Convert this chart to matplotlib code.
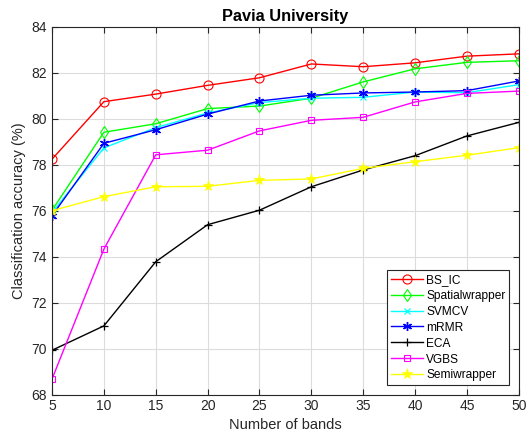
import matplotlib
matplotlib.use("Agg")
import matplotlib.pyplot as plt

plt.rcParams['font.family'] = ['Liberation Sans', 'DejaVu Sans']

bands = [5, 10, 15, 20, 25, 30, 35, 40, 45, 50]
bs_ic = [78.24, 80.74, 81.07, 81.45, 81.78, 82.38, 82.26, 82.43, 82.72, 82.82]
spatialwrapper = [76.02, 79.41, 79.78, 80.44, 80.55, 80.89, 81.60, 82.17, 82.45, 82.52]
svmcv = [75.92, 78.73, 79.61, 80.25, 80.70, 80.89, 80.93, 81.16, 81.13, 81.48]
mrmr = [75.78, 78.93, 79.52, 80.20, 80.77, 81.02, 81.12, 81.16, 81.22, 81.64]
eca = [69.93, 70.99, 73.78, 75.39, 76.02, 77.04, 77.77, 78.39, 79.25, 79.84]
vgbs = [68.68, 74.33, 78.43, 78.63, 79.47, 79.93, 80.06, 80.73, 81.10, 81.20]
semiwrapper = [76.00, 76.61, 77.04, 77.06, 77.32, 77.38, 77.84, 78.13, 78.41, 78.74]

asterisk = (6, 2, 0)

series = [
    ("BS_IC", bs_ic, "#ff0000", "o", dict(mfc='none', ms=6.5, mew=0.8)),
    ("Spatialwrapper", spatialwrapper, "#00ff00", "d", dict(mfc='none', ms=6.5, mew=0.8)),
    ("SVMCV", svmcv, "#00ffff", "x", dict(ms=4.5, mew=0.9)),
    ("mRMR", mrmr, "#0000ff", asterisk, dict(ms=6.5, mew=1.0)),
    ("ECA", eca, "#000000", "+", dict(ms=6, mew=0.9)),
    ("VGBS", vgbs, "#ff00ff", "s", dict(mfc='none', ms=5, mew=0.8)),
    ("Semiwrapper", semiwrapper, "#ffff00", "*", dict(ms=8, mew=0.5)),
]

fig = plt.figure(figsize=(5.31, 4.38), dpi=100)
ax = fig.add_axes([0.098, 0.099, 0.879, 0.840])

for name, vals, col, mk, extra in series:
    ax.plot(bands, vals, color=col, marker=mk, mec=col, lw=1.0, label=name, **extra)

ax.set_xlim(5, 50)
ax.set_ylim(68, 84)
ax.set_xticks(bands)
ax.set_yticks(range(68, 85, 2))
ax.grid(True, color='#dcdcdc', lw=0.8)
ax.set_axisbelow(True)
for s in ax.spines.values():
    s.set_color('#262626')
    s.set_linewidth(0.8)
ax.tick_params(direction='in', top=True, right=True, colors='#262626',
               labelsize=10, length=4, width=0.8, labelcolor='#262626')
ax.set_xlabel("Number of bands", fontsize=10.5, color='#262626', labelpad=3)
ax.set_ylabel("Classification accuracy (%)", fontsize=10.5, color='#262626', labelpad=4)
ax.set_title("Pavia University", fontsize=11.8, fontweight='bold', color='black', pad=4)

leg = ax.legend(loc='lower right', fontsize=8.6, numpoints=1, handlelength=2.7,
                borderpad=0.3, labelspacing=0.33, handletextpad=0.3,
                borderaxespad=0.8, fancybox=False, framealpha=1)
leg.get_frame().set_edgecolor('#262626')
leg.get_frame().set_linewidth(0.8)

fig.savefig("out.png", dpi=100)
